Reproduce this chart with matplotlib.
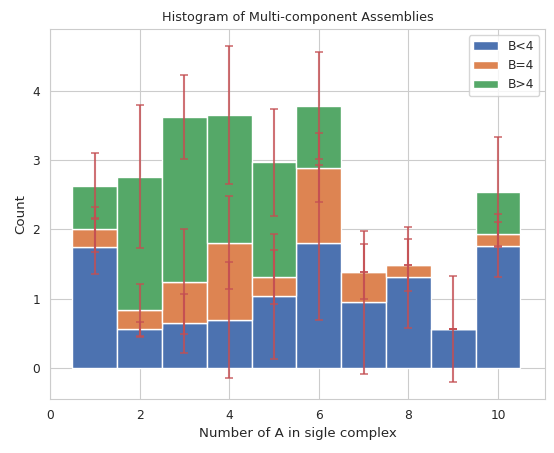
import matplotlib
matplotlib.use("Agg")
import matplotlib.pyplot as plt
import seaborn as sns
import numpy as np

sns.set_style("whitegrid")
plt.rcParams['font.family'] = ['DejaVu Sans']

x = [1, 2, 3, 4, 5, 6, 7, 8, 9, 10]
b_lt4 = [1.755, 0.56, 0.647, 0.69, 1.036, 1.81, 0.95, 1.31, 0.565, 1.765]
b_eq4 = [0.245, 0.275, 0.603, 1.12, 0.274, 1.08, 0.44, 0.18, 0.0, 0.175]
b_gt4 = [0.63, 1.925, 2.37, 1.84, 1.66, 0.89, 0.0, 0.0, 0.0, 0.6]
err_lt4 = [0.39, 0.115, 0.43, 0.835, 0.903, 1.12, 1.03, 0.73, 0.765, 0.453]
err_eq4 = [0.325, 0.375, 0.75, 0.67, 0.39, 0.495, 0.395, 0.37, 0.0, 0.175]
err_gt4 = [0.47, 1.03, 0.61, 0.995, 0.77, 0.77, 0.0, 0.0, 0.0, 0.79]
labels = ["B<4", "B=4", "B>4"]

colors = ["#4C72B0", "#DD8452", "#55A868"]
err_color = "#C44E52"

fig = plt.figure(figsize=(5.54, 4.53), dpi=100)
ax = fig.add_subplot(111)
fig.subplots_adjust(left=0.090, right=0.984, top=0.936, bottom=0.119)

bottom = np.zeros(len(x))
for vals, errs, lab, c in zip([b_lt4, b_eq4, b_gt4], [err_lt4, err_eq4, err_gt4], labels, colors):
    ax.bar(x, vals, width=1.0, bottom=bottom, color=c, edgecolor="white", linewidth=1, label=lab)
    tops = bottom + np.array(vals)
    ax.errorbar(x, tops, yerr=errs, fmt="none", ecolor=err_color, alpha=0.8,
                capsize=3, elinewidth=1.5, capthick=1.2)
    bottom = tops

ax.set_xticks([0, 2, 4, 6, 8, 10])
ax.set_yticks([0, 1, 2, 3, 4])
ax.set_xlim(0, 11.05)
ax.tick_params(labelsize=8.8)
ax.set_xlabel("Number of A in sigle complex", fontsize=9.6)
ax.set_ylabel("Count", fontsize=9.6)
ax.set_title("Histogram of Multi-component Assemblies", fontsize=9.2)
ax.legend(loc="upper right", fontsize=8.8)

fig.savefig("out.png", dpi=100)
